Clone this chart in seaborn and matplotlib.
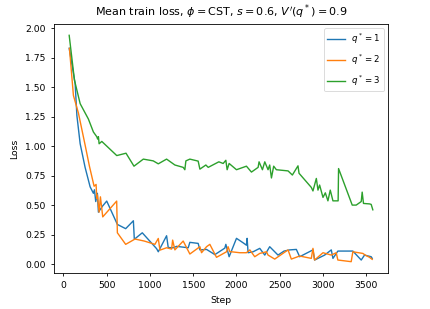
import matplotlib
matplotlib.use("Agg")
import matplotlib.pyplot as plt
import seaborn as sns
import pandas as pd

# q* = 1
steps_q1 = [66, 135, 155, 193, 250, 308, 346, 358, 373, 392, 404, 450, 500, 623, 719, 808, 819, 911,
            1077, 1096, 1192, 1211, 1269, 1308, 1442, 1461, 1557, 1577, 1654, 1750, 1865, 1877, 1915,
            2000, 2077, 2115, 2123, 2134, 2192, 2269, 2327, 2384, 2480, 2550, 2615, 2692, 2730, 2884,
            2903, 3019, 3096, 3115, 3172, 3345, 3442, 3480, 3557, 3569]
loss_q1 = [1.83, 1.53, 1.26, 1.02, 0.82, 0.655, 0.60, 0.63, 0.53, 0.60, 0.44, 0.49, 0.534, 0.336, 0.30, 0.367, 0.21, 0.265,
           0.13, 0.104, 0.24, 0.14, 0.138, 0.15, 0.138, 0.184, 0.175, 0.12, 0.124, 0.08, 0.135, 0.167, 0.062,
           0.218, 0.18, 0.16, 0.218, 0.096, 0.104, 0.133, 0.076, 0.147, 0.076, 0.11, 0.12, 0.124, 0.062, 0.12,
           0.034, 0.076, 0.12, 0.048, 0.11, 0.11, 0.034, 0.076, 0.062, 0.048]

# q* = 2
steps_q2 = [69, 115, 173, 250, 300, 354, 377, 385, 392, 412, 427, 454, 615, 623, 719, 827, 934, 1057, 1096, 1115,
            1192, 1250, 1262, 1288, 1384, 1461, 1577, 1596, 1654, 1692, 1769, 1885, 1903, 1923, 1942, 2038,
            2115, 2154, 2211, 2269, 2346, 2365, 2442, 2596, 2634, 2730, 2865, 2884, 2903, 3000, 3096, 3153,
            3172, 3326, 3345, 3461, 3488, 3538, 3569]
loss_q2 = [1.83, 1.43, 1.28, 1.01, 0.83, 0.66, 0.675, 0.557, 0.585, 0.44, 0.57, 0.40, 0.534, 0.265, 0.167, 0.212, 0.195, 0.167, 0.217, 0.118,
           0.138, 0.127, 0.203, 0.12, 0.195, 0.085, 0.147, 0.096, 0.147, 0.167, 0.057, 0.104, 0.147, 0.104, 0.104, 0.096,
           0.096, 0.12, 0.062, 0.09, 0.104, 0.076, 0.042, 0.12, 0.042, 0.068, 0.048, 0.133, 0.034, 0.096, 0.076, 0.096,
           0.034, 0.02, 0.104, 0.09, 0.076, 0.057, 0.04]

# q* = 3
steps_q3 = [66, 127, 193, 288, 346, 385, 395, 404, 412, 443, 616, 723, 815, 923, 1038, 1096, 1192, 1288, 1384, 1403,
            1415, 1461, 1557, 1577, 1646, 1673, 1796, 1846, 1877, 1892, 1915, 2000, 2115, 2173, 2250, 2261,
            2300, 2327, 2365, 2384, 2404, 2430, 2461, 2596, 2646, 2711, 2723, 2865, 2884, 2923, 2942, 2961,
            3000, 3027, 3057, 3084, 3115, 3175, 3180, 3338, 3384, 3442, 3453, 3468, 3538, 3557, 3576]
loss_q3 = [1.94, 1.56, 1.36, 1.23, 1.12, 1.08, 1.06, 1.08, 1.02, 1.04, 0.92, 0.94, 0.83, 0.89, 0.875, 0.85, 0.89, 0.84, 0.82, 0.80,
           0.875, 0.89, 0.873, 0.805, 0.84, 0.82, 0.867, 0.853, 0.88, 0.80, 0.853, 0.80, 0.83, 0.78, 0.82, 0.867,
           0.80, 0.867, 0.80, 0.84, 0.73, 0.83, 0.80, 0.79, 0.755, 0.833, 0.77, 0.65, 0.62, 0.726, 0.627, 0.67,
           0.565, 0.604, 0.536, 0.627, 0.536, 0.536, 0.81, 0.50, 0.50, 0.53, 0.61, 0.514, 0.51, 0.506, 0.46]

labels = ["$q^*=1$", "$q^*=2$", "$q^*=3$"]
title = "Mean train loss, $\\phi=$CST, $s=0.6$, $V'(q^*)=0.9$"

plt.rcParams['font.family'] = ['DejaVu Sans']
fig = plt.figure(figsize=(4.31, 3.09), dpi=100)
ax = fig.add_axes([54/431, 36/309, 334/431, 249/309])

colors = sns.color_palette("tab10", 3)
for s, l, lab, c in zip([steps_q1, steps_q2, steps_q3], [loss_q1, loss_q2, loss_q3], labels, colors):
    df = pd.DataFrame({"Step": s, "Loss": l})
    sns.lineplot(data=df, x="Step", y="Loss", ax=ax, label=lab, color=c,
                 sort=False, estimator=None, linewidth=1.0)

ax.set_title(title, fontsize=8)
ax.set_xlabel("Step", fontsize=6.7)
ax.set_ylabel("Loss", fontsize=6.7)
ax.tick_params(labelsize=6.7, length=2.5, width=0.6)
for sp in ax.spines.values():
    sp.set_linewidth(0.6)
leg = ax.legend(loc="upper right", fontsize=6.2, frameon=True, labelspacing=0.75)
leg.get_frame().set_linewidth(0.6)

fig.savefig("out.png", dpi=100)
